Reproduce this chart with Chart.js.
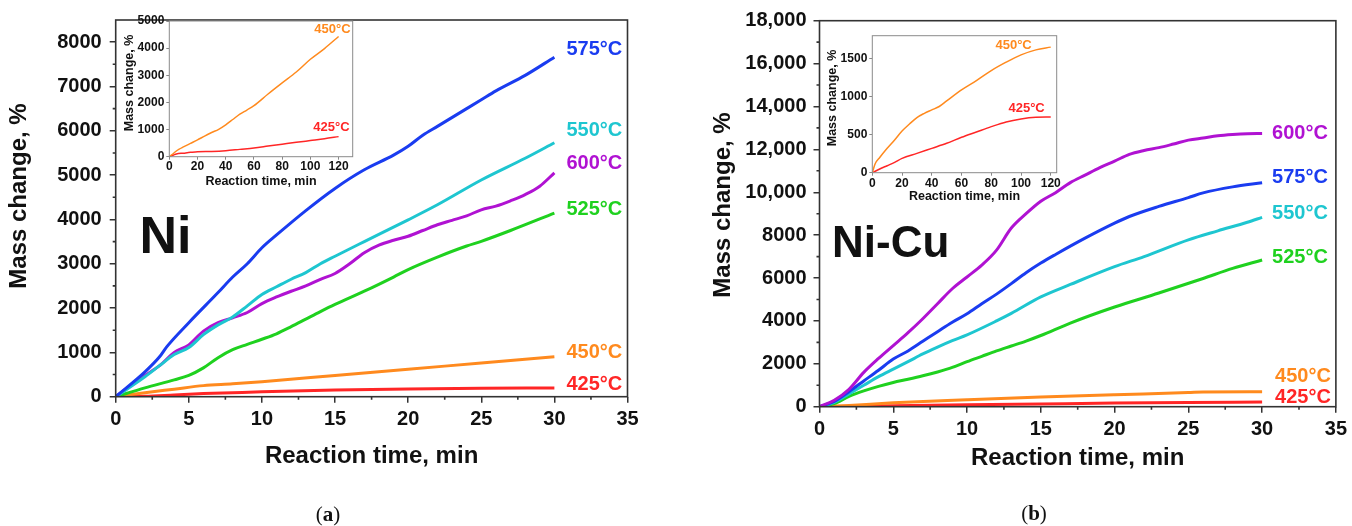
<!DOCTYPE html>
<html>
<head>
<meta charset="utf-8">
<script src="https://cdn.jsdelivr.net/npm/chart.js@4.4.1/dist/chart.umd.min.js"></script>
<style>
  html, body { margin: 0; padding: 0; background: #fff; }
  body { width: 1352px; height: 526px; position: relative; overflow: hidden; }
  canvas { position: absolute; }
  .cap { position: absolute; font-family: "Liberation Serif", "DejaVu Serif", serif; font-size: 21px; color: #111; transform: translate(-50%, -50%); }
</style>
</head>
<body>
<canvas id="mainA" width="680" height="526" style="left:0;top:0"></canvas>
<canvas id="mainB" width="672" height="526" style="left:680px;top:0"></canvas>
<canvas id="insetA" width="260" height="200" style="left:110px;top:0"></canvas>
<canvas id="insetB" width="260" height="200" style="left:820px;top:20px"></canvas>
<div class="cap" style="left:328px;top:514px">(<b>a</b>)</div>
<div class="cap" style="left:1034px;top:513px">(<b>b</b>)</div>
<script>
// tick values
const xTicksMain = [0, 5, 10, 15, 20, 25, 30, 35];
const yTicksA = [0, 1000, 2000, 3000, 4000, 5000, 6000, 7000, 8000];
const yTicksB = [0, 2000, 4000, 6000, 8000, 10000, 12000, 14000, 16000, 18000];
const xTicksInset = [0, 20, 40, 60, 80, 100, 120];
const yTicksIA = [0, 1000, 2000, 3000, 4000, 5000];
const yTicksIB = [0, 500, 1000, 1500];

// ---- panel (a): Ni, 0-30 min
const labelsA = ['575°C', '550°C', '600°C', '525°C', '450°C', '425°C'];
const tA575 = [0, 2, 3, 3.5, 5, 7, 8, 9, 10, 11, 13, 15, 17, 19, 20, 21, 22, 24, 25, 26, 28, 30];
const mA575 = [0, 560, 900, 1130, 1670, 2350, 2700, 3000, 3360, 3650, 4200, 4700, 5120, 5450, 5650, 5900, 6100, 6500, 6700, 6900, 7250, 7660];
const tA550 = [0, 2, 3, 4, 5, 6, 7, 8, 9, 10, 11, 12, 13, 14, 15, 17, 20, 22, 25, 28, 30];
const mA550 = [0, 450, 700, 950, 1108, 1400, 1620, 1800, 2050, 2307, 2480, 2650, 2800, 3000, 3170, 3500, 3990, 4330, 4890, 5380, 5730];
const tA600 = [0, 1, 2, 3, 4, 5, 6, 7, 8, 9, 10, 11, 12, 13, 14, 15, 16, 17, 18, 19, 20, 21, 22, 23, 24, 25, 26, 27, 28, 29, 30];
const mA600 = [0, 250, 480, 700, 1000, 1170, 1480, 1670, 1780, 1900, 2100, 2250, 2380, 2500, 2650, 2780, 3000, 3250, 3420, 3530, 3620, 3750, 3880, 3980, 4080, 4217, 4300, 4420, 4560, 4750, 5050];
const tA525 = [0, 2, 4, 5, 6, 7, 8, 9, 10, 11, 12, 13, 14, 15, 17, 19, 20, 22, 24, 25, 27, 30];
const mA525 = [0, 200, 380, 480, 650, 880, 1060, 1180, 1296, 1420, 1580, 1750, 1920, 2082, 2380, 2700, 2869, 3150, 3400, 3506, 3750, 4142];
const tA450 = [0, 2, 4, 6, 8, 10, 15, 20, 25, 30];
const mA450 = [0, 90, 170, 250, 290, 340, 480, 620, 760, 900];
const tA425 = [0, 2, 4, 6, 8, 10, 15, 20, 25, 30];
const mA425 = [0, 10, 40, 70, 90, 110, 150, 175, 190, 195];

// ---- panel (b): Ni-Cu, 0-30 min
const labelsB = ['600°C', '575°C', '550°C', '525°C', '450°C', '425°C'];
const tB600 = [0, 1, 2, 3, 4, 5, 6, 7, 8, 9, 10, 11, 12, 13, 14, 15, 16, 17, 18, 19, 20, 21, 22, 23, 24, 25, 26, 27, 28, 29, 30];
const mB600 = [0, 300, 810, 1600, 2250, 2850, 3450, 4100, 4800, 5500, 6050, 6600, 7300, 8330, 9000, 9580, 9980, 10450, 10800, 11150, 11450, 11770, 11950, 12080, 12250, 12430, 12530, 12630, 12690, 12730, 12740];
const tB575 = [0, 1, 2, 3, 4, 5, 6, 7, 8, 9, 10, 11, 12, 13, 14, 15, 16, 18, 20, 21, 23, 25, 26, 28, 30];
const mB575 = [0, 250, 700, 1200, 1700, 2220, 2600, 3050, 3500, 3940, 4330, 4800, 5250, 5740, 6250, 6700, 7100, 7860, 8560, 8870, 9340, 9750, 9970, 10250, 10440];
const tB550 = [0, 1, 2, 3, 4, 5, 6, 7, 8, 9, 10, 12, 13, 15, 17, 20, 22, 25, 27, 29, 30];
const mB550 = [0, 200, 600, 1000, 1400, 1750, 2100, 2460, 2780, 3080, 3350, 4000, 4350, 5120, 5700, 6530, 7000, 7780, 8200, 8600, 8830];
const tB525 = [0, 1, 2, 3, 4, 5, 6, 7, 8, 9, 10, 11, 12, 13, 14, 15, 17, 20, 23, 26, 28, 30];
const mB525 = [0, 150, 480, 735, 950, 1130, 1280, 1440, 1620, 1830, 2100, 2350, 2600, 2830, 3060, 3320, 3900, 4650, 5300, 5980, 6450, 6840];
const tB450 = [0, 2, 5, 10, 15, 20, 25, 26, 30];
const mB450 = [0, 60, 180, 320, 450, 560, 660, 690, 700];
const tB425 = [0, 5, 10, 15, 20, 25, 30];
const mB425 = [0, 40, 90, 130, 170, 200, 220];

// ---- insets: 0-120 min
const insetLabels = ['450°C', '425°C'];
const tIA450 = [0, 2, 5, 7, 10, 15, 20, 25, 30, 35, 40, 45, 50, 55, 60, 70, 80, 90, 100, 110, 120];
const mIA450 = [0, 80, 210, 280, 360, 490, 620, 760, 890, 1010, 1175, 1370, 1570, 1720, 1880, 2310, 2720, 3120, 3590, 3985, 4430];
const tIA425 = [0, 3, 5, 10, 15, 20, 30, 40, 50, 60, 70, 80, 90, 100, 110, 120];
const mIA425 = [0, 60, 100, 130, 160, 185, 195, 220, 270, 320, 390, 460, 530, 595, 660, 740];
const tIB450 = [0, 2, 5, 10, 15, 20, 25, 30, 35, 40, 45, 50, 60, 70, 80, 90, 100, 110, 120];
const mIB450 = [0, 120, 200, 320, 430, 548, 640, 724, 780, 825, 870, 943, 1088, 1210, 1342, 1452, 1548, 1614, 1650];
const tIB425 = [0, 5, 10, 15, 20, 30, 40, 50, 60, 70, 80, 90, 100, 110, 120];
const mIB425 = [0, 48, 92, 136, 189, 254, 320, 386, 465, 535, 605, 667, 706, 728, 732];

const COLORS = {
  '600°C': '#b012d2', '575°C': '#1a3cf0', '550°C': '#1ec6d0',
  '525°C': '#1fd11f', '450°C': '#ff8a1e', '425°C': '#ff2626'
};
const FONT = '"Liberation Sans", Arial, sans-serif';

function pts(t, m) { return t.map((x, i) => ({ x: x, y: m[i] })); }

function makeSets(labels, ts, ms, width) {
  return labels.map((lab, i) => ({
    label: lab,
    data: pts(ts[i], ms[i]),
    borderColor: COLORS[lab],
    borderWidth: width,
    pointRadius: 0,
    fill: false,
    cubicInterpolationMode: 'monotone'
  }));
}

// frame, minor ticks, titles and end labels
const deco = {
  id: 'deco',
  afterDraw(chart, args, o) {
    const { ctx, chartArea: a } = chart;
    const x = chart.scales.x, y = chart.scales.y;
    ctx.save();
    ctx.strokeStyle = o.frameColor;
    ctx.lineWidth = o.frameWidth;
    ctx.strokeRect(a.left, a.top, a.right - a.left, a.bottom - a.top);
    if (o.xMinor) {
      ctx.beginPath();
      for (let v = x.min + o.xMinor; v < x.max; v += o.xMinor * 2) {
        const px = x.getPixelForValue(v);
        ctx.moveTo(px, a.bottom); ctx.lineTo(px, a.bottom + o.minorLen);
      }
      for (let v = y.min + o.yMinor; v < y.max; v += o.yMinor * 2) {
        const py = y.getPixelForValue(v);
        ctx.moveTo(a.left, py); ctx.lineTo(a.left - o.minorLen, py);
      }
      ctx.stroke();
    }
    for (const t of o.texts) {
      ctx.save();
      ctx.font = t.font;
      ctx.fillStyle = t.color || '#111';
      ctx.textAlign = t.align || 'center';
      ctx.textBaseline = t.baseline || 'middle';
      const tx = t.x === 'mid' ? (a.left + a.right) / 2 : t.x;
      ctx.translate(tx, t.y);
      if (t.rot) ctx.rotate(t.rot);
      ctx.fillText(t.text, 0, 0);
      ctx.restore();
    }
    chart.data.datasets.forEach((ds, i) => {
      const lab = o.endLabels[i];
      const last = ds.data[ds.data.length - 1];
      ctx.font = o.endFont;
      ctx.fillStyle = ds.borderColor;
      ctx.textAlign = lab.align;
      ctx.textBaseline = 'middle';
      ctx.fillText(ds.label, x.getPixelForValue(last.x) + lab.dx, y.getPixelForValue(last.y) + lab.dy);
    });
    ctx.restore();
  }
};

function axis(cfg) {
  return {
    type: 'linear',
    min: 0,
    max: cfg.max,
    border: { display: false },
    grid: { drawOnChartArea: false, drawTicks: true, tickLength: cfg.tickLen, color: cfg.tickColor, lineWidth: cfg.tickWidth },
    afterBuildTicks: s => { s.ticks = cfg.ticks.map(v => ({ value: v })); },
    ticks: {
      autoSkip: false,
      maxRotation: 0,
      padding: cfg.pad,
      color: '#111',
      font: { family: FONT, size: cfg.size, weight: 'bold' },
      callback: cfg.fmt || (v => String(v))
    },
    afterFit: s => { if (cfg.w) s.width = cfg.w; if (cfg.h) s.height = cfg.h; }
  };
}

function makeChart(id, sets, sc, pad, deco_opts) {
  return new Chart(document.getElementById(id), {
    type: 'line',
    data: { datasets: sets },
    options: {
      responsive: false,
      animation: false,
      events: [],
      layout: { padding: pad },
      plugins: { legend: { display: false }, tooltip: { enabled: false }, deco: deco_opts },
      scales: { x: axis(sc.x), y: axis(sc.y) }
    },
    plugins: [deco]
  });
}

const bigTick = 20, titleFont = 'bold 24px ' + FONT, endFont = 'bold 20px ' + FONT;

// panel (a)
makeChart('mainA',
  makeSets(labelsA, [tA575, tA550, tA600, tA525, tA450, tA425], [mA575, mA550, mA600, mA525, mA450, mA425], 3),
  {
    x: { max: 35, ticks: xTicksMain, tickLen: 6, tickColor: '#333', tickWidth: 1.5, pad: 5, size: bigTick, h: 526 - 396.7 },
    y: { max: 8500, ticks: yTicksA, tickLen: 6, tickColor: '#333', tickWidth: 1.5, pad: 8, size: bigTick, w: 115.7 }
  },
  { top: 17.7, right: 680 - 627.5, bottom: 0, left: 0 },
  {
    frameColor: '#333', frameWidth: 1.6, xMinor: 2.5, yMinor: 500, minorLen: 3,
    endFont: endFont,
    endLabels: [
      { dx: 12, dy: -8, align: 'left' }, { dx: 12, dy: -12, align: 'left' }, { dx: 12, dy: -9, align: 'left' },
      { dx: 12, dy: -4, align: 'left' }, { dx: 12, dy: -4, align: 'left' }, { dx: 12, dy: -4, align: 'left' }
    ],
    texts: [
      { text: 'Mass change, %', font: titleFont, x: 19, y: 196, rot: -Math.PI / 2 },
      { text: 'Reaction time, min', font: titleFont, x: 'mid', y: 456 },
      { text: 'Ni', font: 'bold 52px ' + FONT, x: 139.5, y: 253.4, align: 'left', baseline: 'alphabetic' }
    ]
  });

// panel (b)
makeChart('mainB',
  makeSets(labelsB, [tB600, tB575, tB550, tB525, tB450, tB425], [mB600, mB575, mB550, mB525, mB450, mB425], 3),
  {
    x: { max: 35, ticks: xTicksMain, tickLen: 6, tickColor: '#333', tickWidth: 1.5, pad: 5, size: bigTick, h: 526 - 406.7 },
    y: { max: 18000, ticks: yTicksB, tickLen: 6, tickColor: '#333', tickWidth: 1.5, pad: 7, size: bigTick, w: 139.5,
         fmt: v => v >= 10000 ? v.toLocaleString('en-US') : String(v) }
  },
  { top: 20.7, right: 672 - 658.3, bottom: 0, left: 0 },
  {
    frameColor: '#333', frameWidth: 1.6, xMinor: 2.5, yMinor: 1000, minorLen: 3,
    endFont: endFont,
    endLabels: [
      { dx: 10, dy: 0, align: 'left' }, { dx: 10, dy: -5, align: 'left' }, { dx: 10, dy: -4, align: 'left' },
      { dx: 10, dy: -3, align: 'left' }, { dx: 13, dy: -15, align: 'left' }, { dx: 13, dy: -4, align: 'left' }
    ],
    texts: [
      { text: 'Mass change, %', font: titleFont, x: 43, y: 205, rot: -Math.PI / 2 },
      { text: 'Reaction time, min', font: titleFont, x: 'mid', y: 458 },
      { text: 'Ni-Cu', font: 'bold 44px ' + FONT, x: 152, y: 256.7, align: 'left', baseline: 'alphabetic' }
    ]
  });

const insetTitle = 'bold 12.5px ' + FONT, insetEnd = 'bold 13px ' + FONT;

// inset of (a)
makeChart('insetA',
  makeSets(insetLabels, [tIA450, tIA425], [mIA450, mIA425], 1.5),
  {
    x: { max: 130, ticks: xTicksInset, tickLen: 3, tickColor: '#888', tickWidth: 1, pad: 0, size: 12, h: 200 - 156.7 },
    y: { max: 5000, ticks: yTicksIA, tickLen: 3, tickColor: '#888', tickWidth: 1, pad: 2, size: 12, w: 59.3 }
  },
  { top: 21, right: 260 - 242.7, bottom: 0, left: 0 },
  {
    frameColor: '#8a8a8a', frameWidth: 1, minorLen: 0,
    endFont: insetEnd,
    endLabels: [{ dx: 12, dy: -7, align: 'right' }, { dx: 11, dy: -9, align: 'right' }],
    texts: [
      { text: 'Mass change, %', font: insetTitle, x: 20, y: 83, rot: -Math.PI / 2 },
      { text: 'Reaction time, min', font: insetTitle, x: 'mid', y: 181.7 }
    ]
  });

// inset of (b)
makeChart('insetB',
  makeSets(insetLabels, [tIB450, tIB425], [mIB450, mIB425], 1.5),
  {
    x: { max: 124, ticks: xTicksInset, tickLen: 3, tickColor: '#888', tickWidth: 1, pad: 1, size: 12, h: 200 - 152.7 },
    y: { max: 1800, ticks: yTicksIB, tickLen: 3, tickColor: '#888', tickWidth: 1, pad: 2, size: 12, w: 52.3 }
  },
  { top: 15.7, right: 260 - 236.7, bottom: 0, left: 0 },
  {
    frameColor: '#8a8a8a', frameWidth: 1, minorLen: 0,
    endFont: insetEnd,
    endLabels: [{ dx: -19, dy: -2, align: 'right' }, { dx: -6, dy: -9, align: 'right' }],
    texts: [
      { text: 'Mass change, %', font: insetTitle, x: 13, y: 78, rot: -Math.PI / 2 },
      { text: 'Reaction time, min', font: insetTitle, x: 'mid', y: 176.7 }
    ]
  });
</script>
</body>
</html>
